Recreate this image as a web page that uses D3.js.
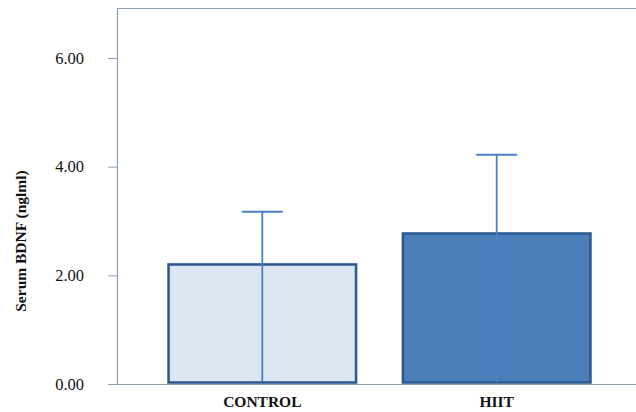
<!DOCTYPE html>
<html>
<head>
<meta charset="utf-8">
<script src="https://cdn.jsdelivr.net/npm/d3@7"></script>
<style>
  body { margin: 0; background: #fff; }
  svg { display: block; }
  text { font-family: "Liberation Serif", "Times New Roman", serif; }
</style>
</head>
<body>
<svg id="chart"></svg>
<script>
//Chart data
const groups = ["CONTROL", "HIIT"];
const means = [2.2, 2.77];
const errUpper = [3.17, 4.22];
const barFills = ["#dce6f2", "#4a7ebb"];
const yTicks = [0, 2, 4, 6];

const width = 636;
const height = 412;

const svg = d3.select("#chart")
    .attr("width", width)
    .attr("height", height);

//Plot area edges
const plotLeft = 117, plotRight = 636, plotTop = 8, plotBottom = 384;

const x = d3.scaleBand()
    .domain(groups)
    .range([plotLeft, 642])
    .paddingInner(0.2)
    .paddingOuter(0.22);

const y = d3.scaleLinear()
    .domain([0, 6])
    .range([plotBottom, 58]);

const axisColor = "#8ea0b3";

//Top border
svg.append("line")
    .attr("x1", plotLeft).attr("x2", plotRight)
    .attr("y1", plotTop + 0.5).attr("y2", plotTop + 0.5)
    .attr("stroke", axisColor)
    .attr("stroke-width", 1.2);

//Y axis
const yAxis = svg.append("g")
    .attr("transform", `translate(${plotLeft},0)`)
    .call(d3.axisLeft(y).tickValues(yTicks).tickFormat(d3.format(".2f")).tickSize(9).tickPadding(24));
yAxis.select(".domain").remove();
yAxis.selectAll(".tick line").attr("stroke", axisColor);
yAxis.selectAll(".tick text")
    .attr("fill", "#111")
    .style("font-family", "'Liberation Serif', serif")
    .style("font-size", "16.5px");
svg.append("line")
    .attr("x1", plotLeft + 0.5).attr("x2", plotLeft + 0.5)
    .attr("y1", plotTop).attr("y2", plotBottom)
    .attr("stroke", axisColor)
    .attr("stroke-width", 1.2);

//Bars
svg.selectAll(".bar")
    .data(groups)
    .enter()
    .append("rect")
    .attr("class", "bar")
    .attr("x", d => x(d))
    .attr("y", (d, i) => y(means[i]))
    .attr("width", x.bandwidth())
    .attr("height", (d, i) => y(0) - y(means[i]) - 1.5)
    .attr("fill", (d, i) => barFills[i])
    .attr("stroke", "#2f5a8f")
    .attr("stroke-width", 2.6);

//X axis line
svg.append("line")
    .attr("x1", 112).attr("x2", plotRight)
    .attr("y1", plotBottom + 0.5).attr("y2", plotBottom + 0.5)
    .attr("stroke", "#8c9aa8")
    .attr("stroke-width", 1.2);

//Error bars
const capHalf = 20.5;
const errColor = "#4a80c2";
svg.selectAll(".errLine")
    .data(groups)
    .enter()
    .append("line")
    .attr("x1", d => x(d) + x.bandwidth() / 2)
    .attr("x2", d => x(d) + x.bandwidth() / 2)
    .attr("y1", y(0) - 2)
    .attr("y2", (d, i) => y(errUpper[i]))
    .attr("stroke", errColor)
    .attr("stroke-width", 1.8);
svg.selectAll(".errCap")
    .data(groups)
    .enter()
    .append("line")
    .attr("x1", d => x(d) + x.bandwidth() / 2 - capHalf)
    .attr("x2", d => x(d) + x.bandwidth() / 2 + capHalf)
    .attr("y1", (d, i) => y(errUpper[i]))
    .attr("y2", (d, i) => y(errUpper[i]))
    .attr("stroke", errColor)
    .attr("stroke-width", 2);

//Category labels
svg.selectAll(".catLabel")
    .data(groups)
    .enter()
    .append("text")
    .attr("x", d => x(d) + x.bandwidth() / 2)
    .attr("y", 407)
    .attr("text-anchor", "middle")
    .style("font-size", "15.5px")
    .style("font-weight", "bold")
    .attr("fill", "#111")
    .text(d => d);

//Y axis title
svg.append("text")
    .attr("transform", "translate(26,241) rotate(-90)")
    .attr("text-anchor", "middle")
    .style("font-size", "15.5px")
    .style("font-weight", "bold")
    .attr("fill", "#111")
    .text("Serum BDNF (nglml)");
</script>
</body>
</html>
